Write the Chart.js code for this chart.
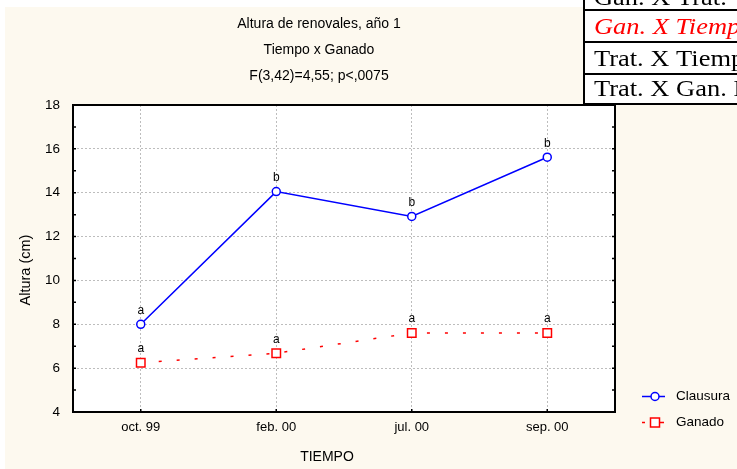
<!DOCTYPE html>
<html>
<head>
<meta charset="utf-8">
<script src="https://cdn.jsdelivr.net/npm/chart.js@4/dist/chart.umd.min.js"></script>
<style>
  html, body { margin: 0; padding: 0; background: #fff; }
  canvas { display: block; }
</style>
</head>
<body>
<canvas id="myChart" width="737" height="469"></canvas>
<script>
/* data */
const categories = ['oct. 99', 'feb. 00', 'jul. 00', 'sep. 00'];
const clausura = [8.0, 14.05, 12.92, 15.62];
const ganado = [6.25, 6.68, 7.6, 7.6];
const clausuraLetters = ['a', 'b', 'b', 'b'];
const ganadoLetters = ['a', 'a', 'a', 'a'];
const yTicks = [4, 6, 8, 10, 12, 14, 16, 18];
const titleLines = ['Altura de renovales, año 1', 'Tiempo x Ganado', 'F(3,42)=4,55; p<,0075'];
const tableRows = ['Gan. X Trat.', 'Gan. X Tiemp', 'Trat. X Tiemp', 'Trat. X Gan. I'];

const SANS = '"Liberation Sans", Arial, sans-serif';
const SERIF = '"Liberation Serif", "Times New Roman", serif';
const BLUE = '#0000ff';
const RED = '#ff0000';
const CREAM = '#fdf9ef';

const decor = {
  id: 'decor',
  beforeDraw: function (chart) {
    const ctx = chart.ctx;
    const a = chart.chartArea;
    ctx.save();
    ctx.fillStyle = '#ffffff';
    ctx.fillRect(0, 0, chart.width, chart.height);
    ctx.fillStyle = CREAM;
    ctx.fillRect(5, 7, chart.width - 5, chart.height - 7);
    ctx.fillStyle = '#ffffff';
    ctx.fillRect(a.left, a.top, a.right - a.left, a.bottom - a.top);
    ctx.restore();
  },
  afterDraw: function (chart) {
    const ctx = chart.ctx;
    const a = chart.chartArea;
    const y = chart.scales.y;
    const x = chart.scales.x;
    ctx.save();

    /* box and minor ticks */
    ctx.strokeStyle = '#000';
    ctx.lineWidth = 2;
    ctx.strokeRect(a.left, a.top, a.right - a.left, a.bottom - a.top);
    ctx.lineWidth = 1.5;
    ctx.beginPath();
    for (let v = yTicks[0]; v <= yTicks[yTicks.length - 1]; v++) {
      const py = y.getPixelForValue(v);
      ctx.moveTo(a.left, py); ctx.lineTo(a.left + 3, py);
      ctx.moveTo(a.right, py); ctx.lineTo(a.right - 3, py);
    }
    categories.forEach(function (c, i) {
      const px = x.getPixelForValue(i);
      ctx.moveTo(px, a.bottom); ctx.lineTo(px, a.bottom - 3);
    });
    ctx.stroke();

    /* letters over points */
    ctx.fillStyle = '#000';
    ctx.font = '12px ' + SANS;
    ctx.textAlign = 'center';
    ctx.textBaseline = 'middle';
    [[0, clausuraLetters], [1, ganadoLetters]].forEach(function (pair) {
      chart.getDatasetMeta(pair[0]).data.forEach(function (pt, i) {
        ctx.fillText(pair[1][i], pt.x, pt.y - 14);
      });
    });

    /* titles */
    ctx.font = '14px ' + SANS;
    titleLines.forEach(function (t, i) {
      ctx.fillText(t, 319, 24 + i * 26);
    });
    ctx.fillText('TIEMPO', 327, 457);
    ctx.save();
    ctx.translate(26, 270);
    ctx.rotate(-Math.PI / 2);
    ctx.font = '14.5px ' + SANS;
    ctx.fillText('Altura (cm)', 0, 0);
    ctx.restore();

    /* legend */
    ctx.font = '13.5px ' + SANS;
    ctx.textAlign = 'left';
    ctx.lineWidth = 1.5;
    ctx.strokeStyle = BLUE;
    ctx.beginPath(); ctx.moveTo(642, 396.5); ctx.lineTo(665, 396.5); ctx.stroke();
    ctx.fillStyle = '#fff';
    ctx.beginPath(); ctx.arc(655, 396.5, 4, 0, Math.PI * 2); ctx.fill(); ctx.stroke();
    ctx.fillStyle = '#000';
    ctx.fillText('Clausura', 676, 396.5);
    ctx.strokeStyle = RED;
    ctx.beginPath();
    ctx.moveTo(642, 422.5); ctx.lineTo(645, 422.5);
    ctx.moveTo(659, 422.5); ctx.lineTo(664, 422.5);
    ctx.stroke();
    ctx.fillStyle = '#fff';
    ctx.fillRect(650.5, 418, 9, 9);
    ctx.strokeRect(650.5, 418, 9, 9);
    ctx.fillStyle = '#000';
    ctx.fillText('Ganado', 676, 422.5);

    /* table in the corner */
    ctx.fillStyle = '#fff';
    ctx.fillRect(584, 0, chart.width - 584, 104);
    ctx.strokeStyle = '#000';
    ctx.lineWidth = 2;
    ctx.beginPath();
    ctx.moveTo(584, 0); ctx.lineTo(584, 105);
    [10, 42, 74, 104].forEach(function (ly) {
      ctx.moveTo(583, ly); ctx.lineTo(chart.width, ly);
    });
    ctx.stroke();
    ctx.textBaseline = 'alphabetic';
    const baselines = [5, 34, 66, 96];
    tableRows.forEach(function (t, i) {
      ctx.save();
      ctx.translate(594, baselines[i]);
      ctx.scale(1.15, 1);
      ctx.fillStyle = i === 1 ? RED : '#000';
      ctx.font = (i === 1 ? 'italic ' : '') + '23px ' + SERIF;
      ctx.fillText(t, 0, 0);
      ctx.restore();
    });
    ctx.restore();
  }
};

const chart = new Chart(document.getElementById('myChart').getContext('2d'), {
  type: 'line',
  data: {
    labels: categories,
    datasets: [{
      label: 'Clausura',
      data: clausura,
      borderColor: BLUE,
      borderWidth: 1.5,
      pointStyle: 'circle',
      pointRadius: 4,
      pointBorderWidth: 1.5,
      pointBackgroundColor: '#fff',
      pointBorderColor: BLUE
    }, {
      label: 'Ganado',
      data: ganado,
      borderColor: RED,
      borderWidth: 1.5,
      borderDash: [3, 15],
      pointStyle: 'rect',
      pointRadius: 6,
      pointBorderWidth: 1.5,
      pointBackgroundColor: '#fff',
      pointBorderColor: RED
    }]
  },
  options: {
    responsive: false,
    animation: false,
    devicePixelRatio: 1,
    layout: { padding: { top: 105, right: 122, left: 0, bottom: 0 } },
    plugins: { legend: { display: false }, title: { display: false }, tooltip: { enabled: false } },
    scales: {
      x: {
        offset: true,
        grid: { offset: false, color: '#bdbdbd', drawTicks: false },
        border: { display: false, dash: [2, 2] },
        ticks: { color: '#000', font: { size: 13, family: SANS }, padding: 8 },
        afterFit: function (s) { s.height = 57; }
      },
      y: {
        min: 4,
        max: 18,
        afterBuildTicks: function (s) { s.ticks = yTicks.map(function (v) { return { value: v }; }); },
        grid: { color: '#bdbdbd', drawTicks: false },
        border: { display: false, dash: [2, 2] },
        ticks: { color: '#000', font: { size: 13.5, family: SANS }, padding: 13 },
        afterFit: function (s) { s.width = 73; }
      }
    }
  },
  plugins: [decor]
});
</script>
</body>
</html>
